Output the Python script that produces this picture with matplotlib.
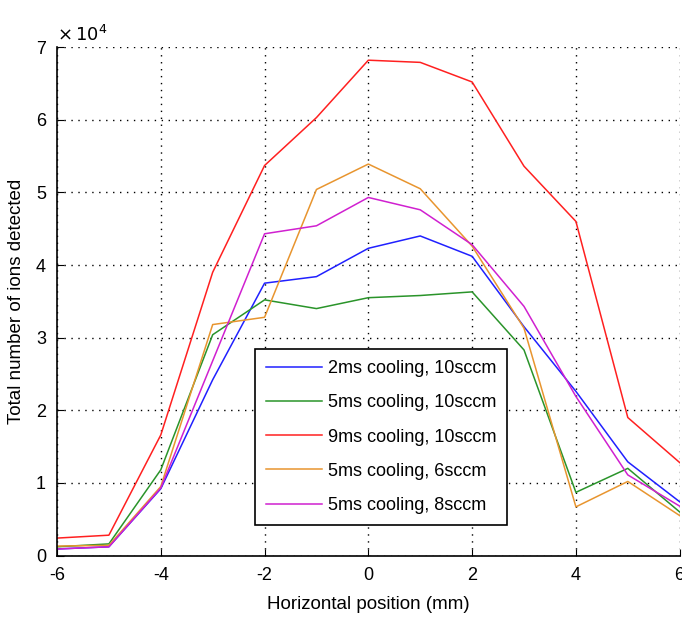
import numpy as np
import matplotlib
matplotlib.use("Agg")
import matplotlib.pyplot as plt
from matplotlib.ticker import FuncFormatter

plt.rcParams['font.family'] = ['Liberation Sans', 'DejaVu Sans']
plt.rcParams['axes.unicode_minus'] = False

x_mm = [-6, -5, -4, -3, -2, -1, 0, 1, 2, 3, 4, 5, 6]

ions_2ms_10 = [900, 1200, 9200, 24200, 37500, 38400, 42300, 44000, 41200, 31500, 22600, 12900, 7400]
ions_5ms_10 = [1200, 1600, 11800, 30400, 35200, 34000, 35500, 35800, 36300, 28300, 8700, 12000, 6000]
ions_9ms_10 = [2400, 2800, 16600, 39000, 53700, 60300, 68200, 67900, 65200, 53600, 46000, 19000, 12800]
ions_5ms_6 = [1300, 1400, 9500, 31800, 32800, 50400, 53900, 50500, 42600, 31300, 6700, 10200, 5500]
ions_5ms_8 = [900, 1200, 9300, 26800, 44300, 45400, 49300, 47600, 42800, 34300, 21900, 11100, 6800]

labels = ['2ms cooling, 10sccm', '5ms cooling, 10sccm', '9ms cooling, 10sccm',
          '5ms cooling, 6sccm', '5ms cooling, 8sccm']
colors = ['#2020ff', '#2a942a', '#ff2020', '#e8952f', '#d020d0']

fig = plt.figure(figsize=(6.82, 6.2), dpi=100)
ax = fig.add_axes([0.0836, 0.104, 0.913, 0.82])

for ys, lab, c in zip([ions_2ms_10, ions_5ms_10, ions_9ms_10, ions_5ms_6, ions_5ms_8], labels, colors):
    ax.plot(x_mm, ys, color=c, lw=1.1, label=lab)

ax.set_xlim(-6, 6)
ax.set_ylim(0, 70000)
ax.set_xticks([-6, -4, -2, 0, 2, 4, 6])
ax.set_yticks(np.arange(0, 70001, 10000))
ax.yaxis.set_major_formatter(FuncFormatter(lambda v, p: '%d' % round(v / 10000)))
ax.grid(True, color='black', linestyle=(0, (1, 4)), linewidth=1.0)
ax.spines['top'].set_visible(False)
ax.spines['right'].set_visible(False)
ax.spines['left'].set_linewidth(1.2)
ax.spines['bottom'].set_linewidth(1.2)
ax.tick_params(direction='in', length=5, labelsize=13, pad=8, colors='black')
ax.tick_params(axis='y', right=False)
ax.set_xlabel('Horizontal position (mm)', fontsize=13.5, labelpad=9)
ax.set_ylabel('Total number of ions detected', fontsize=13.5, labelpad=8)
ax.text(0.0, 1.005, r'$\times\,10^{4}$', transform=ax.transAxes, fontsize=13,
        ha='left', va='bottom', math_fontfamily='dejavusans')

leg = ax.legend(loc='upper left', bbox_to_anchor=(0.318, 0.406), borderaxespad=0,
                fontsize=13, frameon=True, fancybox=False, framealpha=1, edgecolor='black',
                handlelength=3.1, labelspacing=0.95, borderpad=0.62, handletextpad=0.3)
leg.get_frame().set_linewidth(1.2)

fig.savefig('out.png', dpi=100)
